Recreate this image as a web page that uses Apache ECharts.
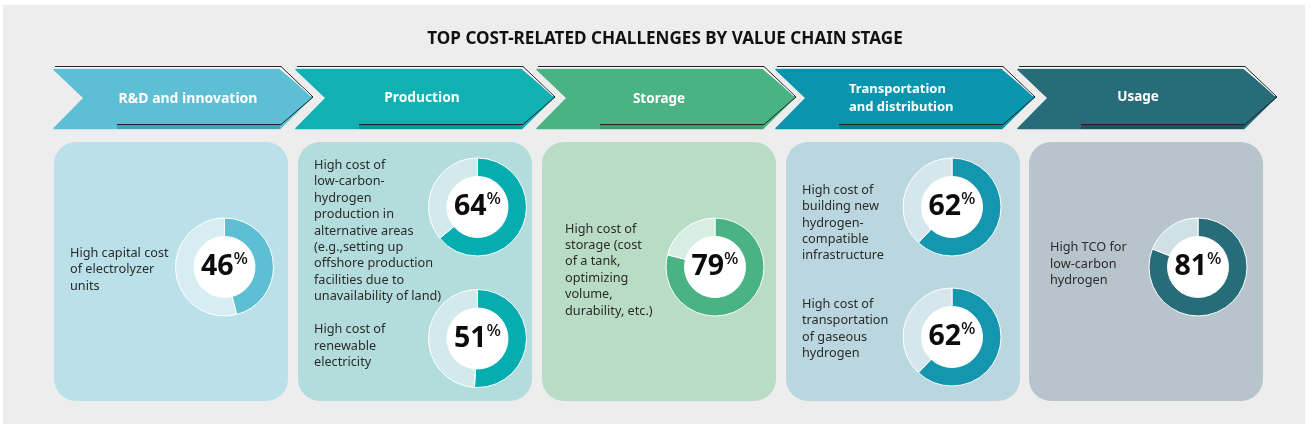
<!DOCTYPE html>
<html><head><meta charset="utf-8">
<style>html,body{margin:0;padding:0;background:#fff}#c{width:1312px;height:431px}</style>
<script src="https://cdn.jsdelivr.net/npm/echarts@6/dist/echarts.min.js"></script></head>
<body><div id="c"></div>
<script>
const chartTitle = "TOP COST-RELATED CHALLENGES BY VALUE CHAIN STAGE";
const stages = ["R&D and innovation","Production","Storage","Transportation\nand distribution","Usage"];
const challengeLabels = [
 "High capital cost\nof electrolyzer\nunits",
 "High cost of\nlow-carbon-\nhydrogen\nproduction in\nalternative areas\n(e.g.,setting up\noffshore production\nfacilities due to\nunavailability of land)",
 "High cost of\nrenewable\nelectricity",
 "High cost of\nstorage (cost\nof a tank,\noptimizing\nvolume,\ndurability, etc.)",
 "High cost of\nbuilding new\nhydrogen-\ncompatible\ninfrastructure",
 "High cost of\ntransportation\nof gaseous\nhydrogen",
 "High TCO for\nlow-carbon\nhydrogen"];
const challengeValues = [46,64,51,79,62,62,81];

// layout and style, kept apart from the data
const FONT = '"Noto Sans","Open Sans",sans-serif';
const arrowX = [54,296,537,776,1018];
const arrowColor = ['#5cbfd4','#11b0b2','#4ab384','#0895ad','#266c79'];
const arrowDark = ['#2f8ba3','#047f82','#2f8a60','#056b80','#123f4a'];
const arrowTextX = [188,422,659,849,1138];
const arrowTextY = [99,98,99,98.5,97.5];
const arrowTextSize = [14,13.8,13.5,13,13.5];
const cardX = [54,298,542,786,1029];
const cardColor = ['#bae1ea','#b3dddc','#b9dcc5','#bad6df','#b7c4cb'];
const donutStage = [0,1,1,2,3,3,4];
const donutPos = [[224.5,267],[477.5,207],[477.5,338.5],[715,267],[952,207],[952,337],[1198,267]];
const labelPos = [[70,269.5],[314,231],[314,346],[565,270],[802,223],[802,329],[1050,264]];
const sliceColor = ['#5cbfd4','#05adb0','#4ab384','#1497ae','#266c79'];
const restColor = ['#d6edf2','#d2eaeb','#d9eee2','#d5e7ed','#d0e1e6'];

const g = [];
g.push({type:'rect',z:0,shape:{x:3,y:5,width:1302,height:419},style:{fill:'#ededed'}});
g.push({type:'text',z:5,style:{x:665,y:39,text:chartTitle,align:'center',verticalAlign:'middle',fill:'#111',font:'bold 17.1px '+FONT}});

stages.forEach((s,i)=>{
  const x=arrowX[i], w=259, top=69.5, bot=128.5, mid=97;
  const pts=[[x,top],[x+w-34,top],[x+w-1,mid],[x+w-33,bot],[x,bot],[x+30,mid+1]];
  g.push({type:'polygon',z:2,shape:{points:pts},style:{fill:arrowColor[i],stroke:arrowColor[i],lineWidth:1.5,lineJoin:'round'}});
  g.push({type:'polygon',z:2,shape:{points:[[x+63,125],[x+w-32,125],[x+w-34,129],[x+63,129]]},style:{fill:arrowDark[i],opacity:0.55}});
  g.push({type:'polyline',z:3,shape:{points:[[x+1,66.5],[x+w-32,66.5],[x+w,97],[x+w-32,124.5],[x+63,124.5]]},style:{fill:null,stroke:'#222',lineWidth:1}});
  g.push({type:'polyline',z:3,shape:{points:[[x+1,67.8],[x+w-33,67.8],[x+w-2,96]]},style:{fill:null,stroke:'#fff',lineWidth:1}});
  g.push({type:'text',z:4,style:{x:arrowTextX[i],y:arrowTextY[i],text:s,align:s.includes('\n')?'left':'center',verticalAlign:'middle',fill:'#fff',font:'bold '+arrowTextSize[i]+'px '+FONT,lineHeight:17.5}});
  g.push({type:'rect',z:1,shape:{x:cardX[i],y:142,width:234,height:259,r:22},style:{fill:cardColor[i]}});
});

challengeLabels.forEach((t,i)=>{
  g.push({type:'text',z:4,style:{x:labelPos[i][0],y:labelPos[i][1],text:t,align:'left',verticalAlign:'middle',fill:'#2b2b2b',font:'12.7px '+FONT,lineHeight:16.4}});
});

const series = challengeValues.map((v,i)=>{
  const st=donutStage[i];
  return {type:'pie',z:6,center:donutPos[i],radius:[30.5,49],startAngle:90,clockwise:true,silent:true,animation:false,
    label:{show:false},labelLine:{show:false},
    itemStyle:{borderColor:'#fff',borderWidth:1},
    data:[{value:v,name:'share',itemStyle:{color:sliceColor[st]},
            label:{show:true,position:'center',formatter:'{a|'+v+'}{b|%}',
              rich:{a:{fontFamily:FONT,fontWeight:'bold',fontSize:28.5,color:'#0c0c0c',lineHeight:32},
                    b:{fontFamily:FONT,fontWeight:500,fontSize:17,color:'#0c0c0c',verticalAlign:'top',lineHeight:18}}}},
          {value:100-v,name:'rest',itemStyle:{color:restColor[st]}}]};
});
donutPos.forEach(p=>g.push({type:'circle',z:1.5,shape:{cx:p[0],cy:p[1],r:32},style:{fill:'#fff'}}));

const chart = echarts.init(document.getElementById('c'),null,{renderer:'canvas'});
chart.setOption({animation:false,graphic:{elements:g},series});
</script></body></html>
